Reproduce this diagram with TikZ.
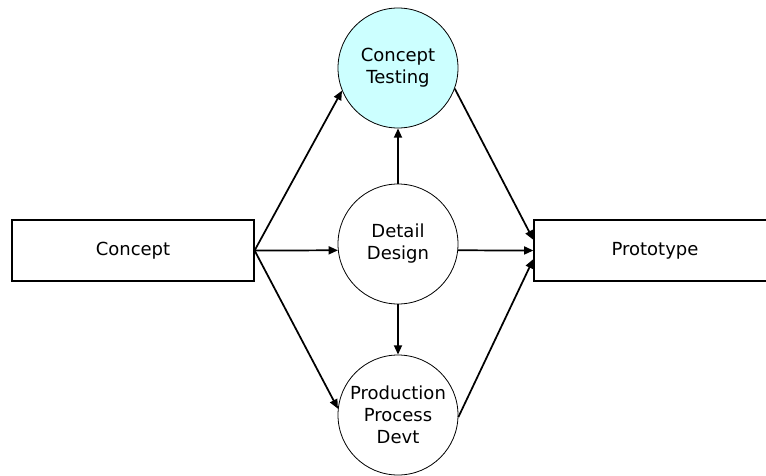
\documentclass[tikz,border=0pt]{standalone}
\usepackage{fontspec}
\setmainfont{DejaVu Sans}
\usetikzlibrary{arrows.meta}
\definecolor{testcyan}{HTML}{CCFFFF}
\begin{document}
\begin{tikzpicture}[x=0.75pt,y=-0.75pt,>={Triangle[length=7pt,width=6pt]},line width=1.3pt,font=\fontsize{13.5}{16.5}\selectfont]
  \tikzset{stage/.style={draw,line width=0.9pt,minimum width=181.5pt,minimum height=45.75pt},
    activity/.style={draw,circle,line width=0.6pt,minimum size=90pt,inner sep=0pt,align=center}}
  \useasboundingbox (0,0) rectangle (766,475);

  % 两端的矩形
  \node[stage] (concept) at (133,250.5) {Concept};
  \node[stage] (proto) at (655,250.5) {Prototype};

  % 中间的圆
  \node[activity,fill=testcyan] (ct) at (398,68) {Concept\\Testing};
  \node[activity] (dd) at (398,244) {Detail\\Design};
  \node[activity] (pp) at (398,415) {Production\\Process\\Devt};

  % 箭头
  \draw[->] (concept.east) -- (ct.202);
  \draw[->] (concept.east) -- (dd.186);
  \draw[->] (concept.east) -- (pp.174);
  \draw[->] (ct.340) -- (proto.175.5);
  \draw[->] (dd.354) -- (proto.west);
  \draw[->] (pp.358) -- (proto.184.5);
  \draw[->] (dd.north) -- (ct.south);
  \draw[->] (dd.south) -- (pp.north);
\end{tikzpicture}
\end{document}
